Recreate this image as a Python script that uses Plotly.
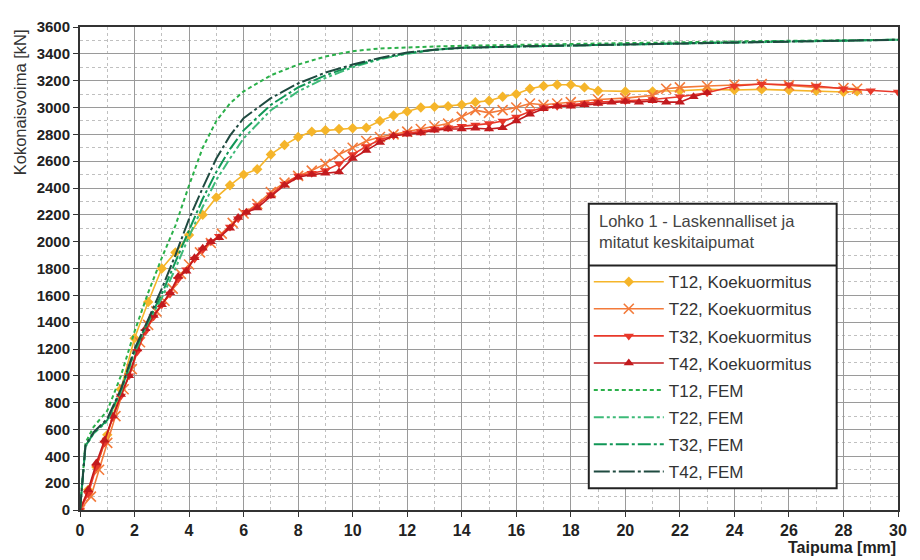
import plotly.graph_objects as go

# ---------------- data ----------------
t12_exp_x = [0, 0.3, 0.6, 1.0, 1.5, 2.0, 2.5, 3.0, 3.5, 4.0, 4.5, 5.0, 5.5, 6.0, 6.5, 7.0, 7.5, 8.0, 8.5, 9.0,
             9.5, 10.0, 10.5, 11.0, 11.5, 12.0, 12.5, 13.0, 13.5, 14.0, 14.5, 15.0, 15.5, 16.0, 16.5, 17.0,
             17.5, 18.0, 18.5, 19.0, 20.0, 21.0, 22.0, 23.0, 24.0, 25.0, 26.0, 27.0, 28.0, 28.5]
t12_exp_y = [0, 150, 320, 560, 900, 1280, 1550, 1800, 1920, 2050, 2200, 2330, 2420, 2500, 2540, 2650, 2720, 2780,
             2820, 2830, 2840, 2845, 2850, 2900, 2940, 2970, 3000, 3005, 3010, 3020, 3040, 3050, 3080, 3100,
             3140, 3160, 3170, 3170, 3150, 3125, 3120, 3120, 3125, 3135, 3130, 3135, 3130, 3125, 3115, 3120]

t22_exp_x = [0, 0.4, 0.7, 1.0, 1.3, 1.6, 1.9, 2.2, 2.5, 2.8, 3.1, 3.4, 3.7, 4.0, 4.4, 4.8, 5.2, 5.6, 6.0, 6.5,
             7.0, 7.5, 8.0, 8.5, 9.0, 9.5, 10.0, 10.5, 11.0, 11.5, 12.0, 12.5, 13.0, 13.5, 14.0, 14.5, 15.0,
             15.5, 16.0, 16.5, 17.0, 17.5, 18.0, 19.0, 20.0, 21.0, 21.5, 22.0, 23.0, 24.0, 25.0, 26.0, 27.0,
             28.0, 28.5]
t22_exp_y = [0, 100, 300, 500, 700, 900, 1050, 1250, 1380, 1480, 1560, 1650, 1760, 1830, 1920, 1990, 2060, 2140,
             2210, 2280, 2370, 2440, 2490, 2530, 2580, 2650, 2700, 2750, 2780, 2800, 2820, 2840, 2860, 2880,
             2930, 2980, 2960, 2980, 3000, 3030, 3020, 3030, 3040, 3060, 3070, 3090, 3140, 3150, 3160, 3170,
             3175, 3165, 3150, 3145, 3140]

t32_exp_x = [0, 0.3, 0.6, 0.9, 1.2, 1.5, 1.8, 2.1, 2.4, 2.7, 3.0, 3.3, 3.6, 3.9, 4.2, 4.5, 4.8, 5.1, 5.5, 5.8,
             6.1, 6.5, 7.0, 7.5, 8.0, 8.5, 9.0, 9.5, 10.0, 10.5, 11.0, 11.5, 12.0, 12.5, 13.0, 13.5, 14.0, 14.5,
             15.0, 15.5, 16.0, 16.5, 17.0, 17.5, 18.0, 18.5, 19.0, 20.0, 21.0, 22.0, 23.0, 24.0, 25.0, 26.0,
             27.0, 28.0, 29.0, 30.0]
t32_exp_y = [0, 120, 320, 500, 690, 850, 1000, 1180, 1330, 1440, 1530, 1610, 1720, 1790, 1870, 1940, 2000, 2040,
             2110, 2170, 2220, 2270, 2350, 2430, 2490, 2510, 2530, 2580, 2650, 2710, 2760, 2790, 2810, 2820,
             2840, 2850, 2860, 2870, 2880, 2900, 2930, 2970, 3000, 3010, 3020, 3030, 3040, 3050, 3060, 3080,
             3110, 3160, 3175, 3170, 3160, 3140, 3125, 3115]

t42_exp_x = [0, 0.3, 0.6, 0.9, 1.2, 1.5, 1.8, 2.1, 2.4, 2.7, 3.0, 3.3, 3.6, 3.9, 4.2, 4.5, 4.8, 5.1, 5.5, 5.8,
             6.1, 6.5, 7.0, 7.5, 8.0, 8.5, 9.0, 9.5, 10.0, 10.5, 11.0, 11.5, 12.0, 12.5, 13.0, 13.5, 14.0, 14.5,
             15.0, 15.5, 16.0, 16.5, 17.0, 17.5, 18.0, 18.5, 19.0, 19.5, 20.0, 20.5, 21.0, 21.5, 22.0, 22.5, 23.0]
t42_exp_y = [0, 150, 350, 520, 700, 860, 1000, 1200, 1350, 1450, 1530, 1620, 1740, 1780, 1880, 1950, 2000, 2030,
             2100, 2180, 2220, 2250, 2340, 2420, 2480, 2500, 2510, 2520, 2620, 2680, 2740, 2790, 2800, 2810,
             2830, 2840, 2840, 2845, 2840, 2850, 2900, 2950, 2990, 3010, 3010, 3020, 3030, 3040, 3045, 3040,
             3050, 3040, 3040, 3080, 3110]

fem_x = [0, 0.2, 0.5, 1.0, 1.5, 2.0, 2.5, 3.0, 3.5, 4.0, 4.5, 5.0, 5.5, 6.0, 7.0, 8.0, 9.0, 10.0, 11.0, 12.0,
         13.0, 14.0, 16.0, 20.0, 25.0, 30.0]
t12_fem_y = [0, 500, 620, 740, 1000, 1330, 1620, 1880, 2120, 2420, 2700, 2900, 3030, 3120, 3240, 3320, 3380,
             3420, 3440, 3450, 3455, 3460, 3465, 3480, 3495, 3505]
t22_fem_y = [0, 470, 570, 660, 880, 1170, 1400, 1580, 1800, 2040, 2260, 2460, 2620, 2770, 2980, 3120, 3220,
             3300, 3360, 3400, 3430, 3445, 3455, 3470, 3490, 3505]
t32_fem_y = [0, 475, 575, 670, 890, 1185, 1410, 1610, 1850, 2090, 2320, 2520, 2690, 2830, 3020, 3150, 3240,
             3310, 3365, 3405, 3430, 3445, 3455, 3470, 3490, 3505]
t42_fem_y = [0, 480, 580, 680, 900, 1200, 1420, 1650, 1900, 2170, 2400, 2620, 2790, 2920, 3070, 3180, 3260,
             3320, 3370, 3410, 3430, 3445, 3455, 3470, 3490, 3505]

x_ticks = list(range(0, 31, 2))
y_ticks = list(range(0, 3601, 200))

legend_title = "Lohko 1 - Laskennalliset ja<br>mitatut keskitaipumat"
x_title = "Taipuma [mm]"
y_title = "Kokonaisvoima [kN]"

# ---------------- figure ----------------
fig = go.Figure()

exp_series = [
    ("T12, Koekuormitus", t12_exp_x, t12_exp_y, "#f5b52a", "diamond", 8),
    ("T22, Koekuormitus", t22_exp_x, t22_exp_y, "#f37a3a", "x-thin-open", 10),
    ("T32, Koekuormitus", t32_exp_x, t32_exp_y, "#e8382a", "triangle-down", 9),
    ("T42, Koekuormitus", t42_exp_x, t42_exp_y, "#c21a1e", "triangle-up", 9),
]
fem_series = [
    ("T12, FEM", t12_fem_y, "#2bb04a", "4px,3px"),
    ("T22, FEM", t22_fem_y, "#3dba78", "10px,3px,3px,3px,3px,3px"),
    ("T32, FEM", t32_fem_y, "#109656", "13px,3px,3px,3px"),
    ("T42, FEM", t42_fem_y, "#1f4a40", "16px,3px,3px,3px"),
]

for i, (name, xs, ys, col, sym, sz) in enumerate(exp_series):
    mk = dict(symbol=sym, size=sz, color=col)
    if sym == "x-thin-open":
        mk["line"] = dict(color=col, width=1.6)
    fig.add_trace(go.Scatter(x=xs, y=ys, name=name, mode="lines+markers",
                             line=dict(color=col, width=1.6), marker=mk,
                             legendgroup="g%d" % i))

for j, (name, ys, col, dash) in enumerate(fem_series):
    fig.add_trace(go.Scatter(x=fem_x, y=ys, name=name, mode="lines",
                             line=dict(color=col, width=2, dash=dash),
                             legendgroup="f%d" % j))

bold_fam = "Liberation Sans, Arial, sans-serif"
narrow_fam = "Liberation Sans Narrow, Liberation Sans, Arial, sans-serif"

# page adds an 8px body margin -> figure 912x552
fig.update_layout(
    width=912, height=552,
    margin=dict(l=72, r=22, t=10, b=50),
    paper_bgcolor="white", plot_bgcolor="white",
    font=dict(family="Liberation Sans, Arial, sans-serif", color="#333333"),
    legend=dict(
        x=0.622, y=0.509, xanchor="left", yanchor="top",
        bgcolor="rgba(0,0,0,0)", borderwidth=0,
        font=dict(size=17, color="#333333"),
        traceorder="grouped", tracegroupgap=2, itemwidth=70,
    ),
    showlegend=True,
)

fig.update_xaxes(
    range=[0, 30], tickvals=x_ticks, ticktext=[str(v) for v in x_ticks],
    showgrid=True, gridcolor="#9a9a9a", gridwidth=1,
    minor=dict(dtick=1, showgrid=True, gridcolor="#c0c0c0", griddash="dot", gridwidth=1),
    showline=True, linecolor="#333333", linewidth=2, mirror=True,
    ticks="outside", ticklen=5, tickcolor="#333333",
    tickfont=dict(family=narrow_fam, size=16, color="#222222", weight="bold"),
    zeroline=False,
)
fig.update_yaxes(
    range=[0, 3600], tickvals=y_ticks, ticktext=[str(v) for v in y_ticks],
    showgrid=True, gridcolor="#9a9a9a", gridwidth=1,
    minor=dict(dtick=100, showgrid=True, gridcolor="#c0c0c0", griddash="dot", gridwidth=1),
    showline=True, linecolor="#333333", linewidth=2, mirror=True,
    ticks="outside", ticklen=5, tickcolor="#333333",
    tickfont=dict(family=bold_fam, size=15, color="#222222", weight="bold"),
    zeroline=False,
)

# axis titles as annotations (placed like the original)
fig.add_annotation(text=x_title, xref="paper", yref="paper", x=1.0, y=-0.077,
                   xanchor="right", yanchor="middle", showarrow=False,
                   font=dict(family=bold_fam, size=16, color="#222222", weight="bold"))
fig.add_annotation(text=y_title, xref="paper", yref="paper", x=-0.073, y=1.0,
                   xanchor="center", yanchor="top", textangle=-90, showarrow=False,
                   font=dict(family="Liberation Sans, Arial, sans-serif", size=16.5, color="#333333"))

# legend frame, its title and the separator under the title
fig.add_shape(type="rect", xref="paper", yref="paper", x0=0.622, x1=0.925, y0=0.045, y1=0.634,
              line=dict(color="#222222", width=2), fillcolor="white", layer="above")
fig.add_shape(type="line", xref="paper", yref="paper", x0=0.622, x1=0.925, y0=0.506, y1=0.506,
              line=dict(color="#222222", width=2), layer="above")
fig.add_annotation(text=legend_title, xref="paper", yref="paper", x=0.632, y=0.6215,
                   xanchor="left", yanchor="top", align="left", showarrow=False,
                   font=dict(size=16.5, color="#444444"))

fig.write_html("out.html")
